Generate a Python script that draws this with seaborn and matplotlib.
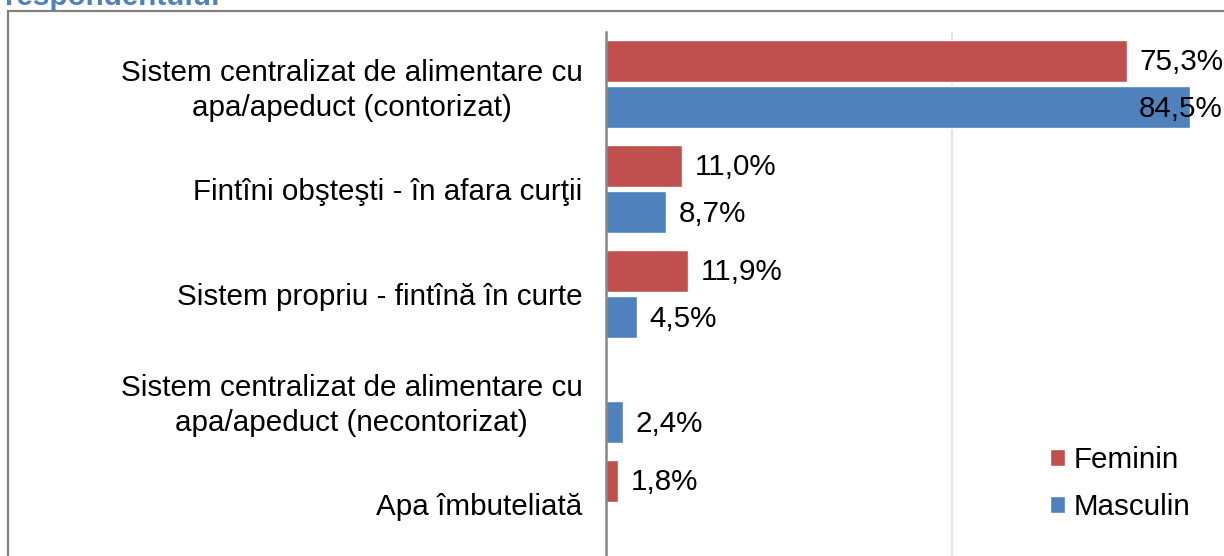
import numpy as np
import pandas as pd
import matplotlib
matplotlib.use("Agg")
import matplotlib.pyplot as plt
import matplotlib.patches as mpatches
import matplotlib.transforms as mtransforms
import seaborn as sns

# date
categorii = [
    "Sistem centralizat de alimentare cu\napa/apeduct (contorizat)",
    "Fintîni obşteşti - în afara curţii",
    "Sistem propriu - fintînă în curte",
    "Sistem centralizat de alimentare cu\napa/apeduct (necontorizat)",
    "Apa îmbuteliată",
]
feminin = [75.3, 11.0, 11.9, 0.0, 1.8]
masculin = [84.5, 8.7, 4.5, 2.4, 0.0]
serii = ["Feminin", "Masculin"]
culori = ["#C0504D", "#4F81BD"]

df = pd.DataFrame({
    "cat": categorii * 2,
    "val": feminin + masculin,
    "sex": [serii[0]] * len(categorii) + [serii[1]] * len(categorii),
})

sns.set_style("white")
plt.rcParams["font.family"] = ["Liberation Sans", "DejaVu Sans"]
plt.rcParams["text.color"] = "black"
FS = 21.3

fig = plt.figure(figsize=(12.24, 5.56), dpi=100)
ax = fig.add_axes([606 / 1224, 1 - 556.7 / 556, 1 - 606 / 1224, 525 / 556])

sns.barplot(data=df, y="cat", x="val", hue="sex", orient="h",
            palette=culori, hue_order=serii, width=0.883, gap=0.09,
            saturation=1, ax=ax, errorbar=None)

ax.set_xlim(0, 89.4)
ax.set_ylim(len(categorii) - 0.5, -0.5)
ax.set_xlabel("")
ax.set_ylabel("")

# grila verticala la 50%
ax.set_xticks([0, 50])
ax.set_xticklabels([])
ax.xaxis.grid(True, color="#D9E2EC", lw=1.3)
ax.set_axisbelow(True)
ax.tick_params(axis="x", length=0)

for s in ["top", "right", "bottom"]:
    ax.spines[s].set_visible(False)
ax.spines["left"].set_color("#868686")
ax.spines["left"].set_linewidth(1.8)

ax.set_yticks(np.arange(-0.5, len(categorii), 1), minor=True)
ax.tick_params(axis="y", which="major", length=0, pad=17, labelsize=FS,
               labelcolor="black")
ax.tick_params(axis="y", which="minor", length=6, width=1.5, color="#868686")
for t in ax.get_yticklabels():
    t.set_multialignment("center")
    t.set_linespacing(1.3)

# etichete valori
fig.canvas.draw()
rend = fig.canvas.get_renderer()
blend = mtransforms.blended_transform_factory(ax.transAxes, ax.transData)
for cont in ax.containers:
    for bar in cont:
        v = bar.get_width()
        if v <= 0:
            continue
        txt = f"{v:.1f}%".replace(".", ",")
        yc = bar.get_y() + bar.get_height() / 2
        a = ax.annotate(txt, xy=(v, yc), xytext=(9, -1), textcoords="offset points",
                        ha="left", va="center", fontsize=FS, color="black")
        bb = a.get_window_extent(rend)
        if bb.x1 > ax.get_window_extent(rend).x1:
            a.remove()
            ax.annotate(txt, xy=(1, yc), xycoords=blend, xytext=(-1, -1),
                        textcoords="offset points", ha="right", va="center",
                        fontsize=FS, color="black", annotation_clip=False)

handles, labels = ax.get_legend_handles_labels()
ax.legend(handles, labels, loc="upper left",
          bbox_to_anchor=(1050 / 1224, 1 - 446 / 556), bbox_transform=fig.transFigure,
          frameon=False, fontsize=FS, handlelength=0.5, handleheight=0.5,
          handletextpad=0.3, labelspacing=0.65, borderpad=0, borderaxespad=0,
          labelcolor="black")

# chenar si titlu taiat
fig.add_artist(mpatches.Rectangle((7.5 / 1224, -0.2), 2, 1 - 11 / 556 + 0.2,
                                  transform=fig.transFigure, fill=False,
                                  edgecolor="#808080", lw=1.6, zorder=0))
fig.text(5 / 1224, 1 - 5 / 556, "respondentului", fontsize=FS, fontweight="bold",
         color="#4F81BD", ha="left", va="baseline")

fig.savefig("out.png", dpi=100)
